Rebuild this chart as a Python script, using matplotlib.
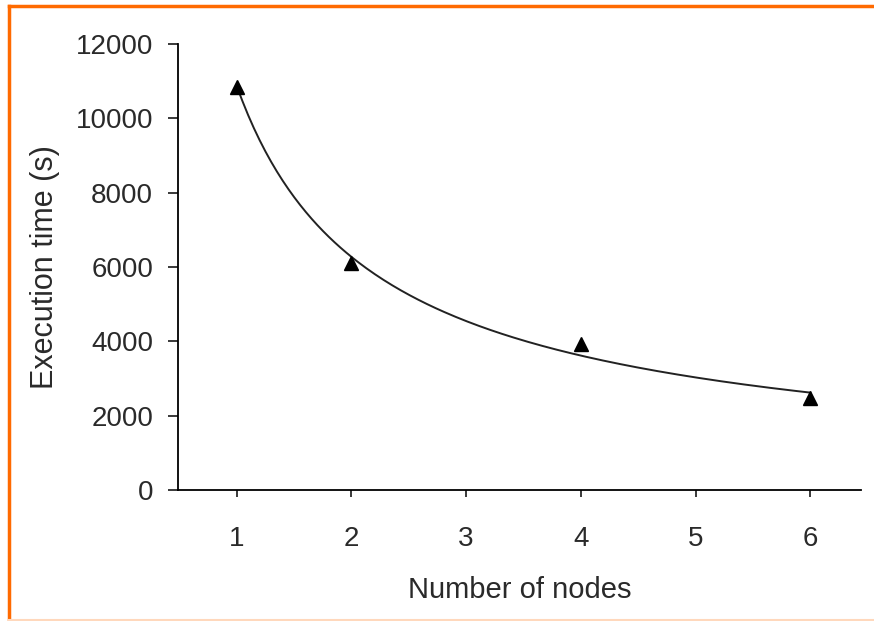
import numpy as np
import matplotlib.pyplot as plt
from matplotlib.lines import Line2D

nodes = [1, 2, 4, 6]
exec_time = [10850, 6120, 3930, 2480]
x_ticks = [1, 2, 3, 4, 5, 6]
y_ticks = [0, 2000, 4000, 6000, 8000, 10000, 12000]

plt.rcParams['font.family'] = ['Liberation Sans', 'DejaVu Sans']

fig = plt.figure(figsize=(8.74, 6.21), dpi=100)
ax = fig.add_axes([0.2037, 0.2110, 0.7813, 0.7181])

# power trendline fitted to the points
b, log_a = np.polyfit(np.log(nodes), np.log(exec_time), 1)
xs = np.linspace(nodes[0], nodes[-1], 200)
ax.plot(xs, np.exp(log_a) * xs ** b, color='#222222', lw=1.4)
ax.plot(nodes, exec_time, '^', color='black', markersize=10)

ax.set_xlim(0.49, 6.44)
ax.set_ylim(0, 12000)
ax.set_xticks(x_ticks)
ax.set_yticks(y_ticks)
ax.spines['top'].set_visible(False)
ax.spines['right'].set_visible(False)
ax.spines['left'].set_linewidth(1.3)
ax.spines['bottom'].set_linewidth(1.3)
ax.tick_params(axis='both', labelsize=20, colors='#2a2a2a', width=1.3)
ax.tick_params(axis='y', length=7, pad=11)
ax.tick_params(axis='x', length=5, pad=21)
ax.set_xlabel('Number of nodes', fontsize=21, color='#2a2a2a', labelpad=17)
ax.set_ylabel('Execution time (s)', fontsize=22, color='#2a2a2a', labelpad=11)

# orange frame
fig.add_artist(Line2D([0.0105, 0.0105], [0.0, 0.991], transform=fig.transFigure, color='#ff6a00', lw=2.5))
fig.add_artist(Line2D([0.0105, 1.0], [0.991, 0.991], transform=fig.transFigure, color='#ff6a00', lw=2.5))
fig.add_artist(Line2D([0.0105, 1.0], [0.002, 0.002], transform=fig.transFigure, color='#ffd8bc', lw=1.5))

fig.savefig('out.png', dpi=100)
